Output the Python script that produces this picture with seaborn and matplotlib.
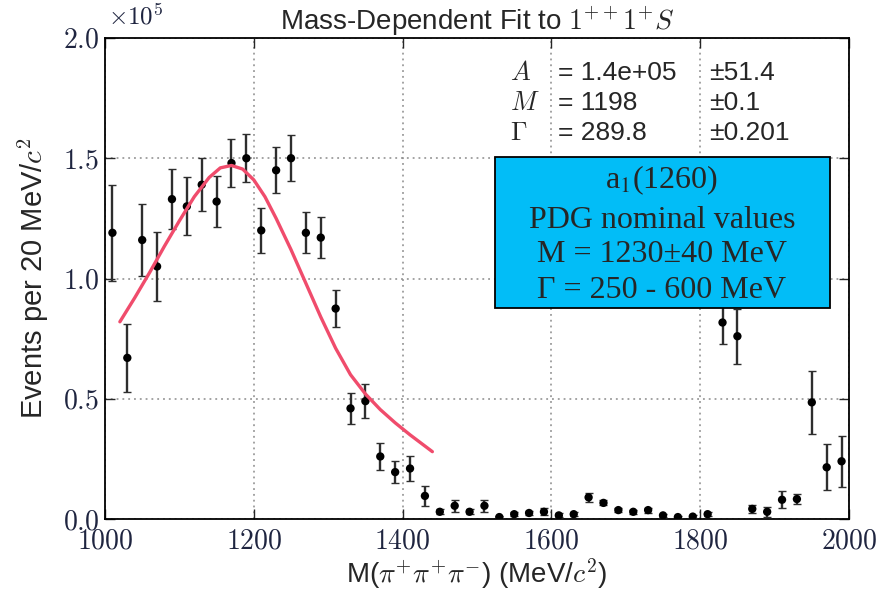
import numpy as np
import pandas as pd
import matplotlib
matplotlib.use('Agg')
import matplotlib.pyplot as plt
from matplotlib.patches import Rectangle
from matplotlib.ticker import FuncFormatter, FixedLocator
import seaborn as sns

# ---- data (events in units of 10^5) ----
mass = [1010, 1030, 1050, 1070, 1090, 1110, 1130, 1150, 1170, 1190,
        1210, 1230, 1250, 1270, 1290, 1310, 1330, 1350, 1370, 1390,
        1410, 1430, 1450, 1470, 1490, 1510, 1530, 1550, 1570, 1590,
        1610, 1630, 1650, 1670, 1690, 1710, 1730, 1750, 1770, 1790,
        1810, 1830, 1850, 1870, 1890, 1910, 1930, 1950, 1970, 1990]
events = [1.19, 0.67, 1.16, 1.05, 1.33, 1.30, 1.39, 1.32, 1.48, 1.50,
          1.20, 1.45, 1.50, 1.19, 1.17, 0.875, 0.46, 0.49, 0.26, 0.195,
          0.21, 0.096, 0.03, 0.055, 0.03, 0.055, 0.008, 0.02, 0.025, 0.03,
          0.015, 0.02, 0.09, 0.067, 0.037, 0.03, 0.037, 0.015, 0.008, 0.01,
          0.02, 0.817, 0.76, 0.042, 0.03, 0.08, 0.083, 0.485, 0.215, 0.24]
errors = [0.20, 0.14, 0.15, 0.145, 0.125, 0.12, 0.11, 0.105, 0.10, 0.10,
          0.095, 0.095, 0.095, 0.085, 0.085, 0.077, 0.065, 0.07, 0.055, 0.045,
          0.05, 0.04, 0.01, 0.025, 0.01, 0.025, 0.005, 0.008, 0.008, 0.015,
          0.008, 0.008, 0.02, 0.01, 0.008, 0.008, 0.01, 0.005, 0.005, 0.005,
          0.008, 0.09, 0.115, 0.015, 0.02, 0.035, 0.02, 0.13, 0.095, 0.105]

fit_mass = [1020, 1040, 1060, 1080, 1100, 1120, 1140, 1155, 1170, 1185,
            1200, 1215, 1230, 1250, 1270, 1290, 1310, 1330, 1350, 1370,
            1390, 1410, 1425, 1440]
fit_events = [0.82, 0.92, 1.025, 1.135, 1.24, 1.34, 1.42, 1.46, 1.47, 1.455,
              1.41, 1.34, 1.25, 1.12, 0.98, 0.84, 0.71, 0.60, 0.52, 0.455,
              0.40, 0.35, 0.315, 0.28]

x_ticks = [1000, 1200, 1400, 1600, 1800, 2000]
y_ticks = [0.0, 0.5, 1.0, 1.5, 2.0]

title = r'Mass-Dependent Fit to $1^{++}1^{+}S$'
xlabel = r'M($\pi^{+}\pi^{+}\pi^{-}$) (MeV/$c^{2}$)'
ylabel = r'Events per 20 MeV/$c^{2}$'
param_names = [r'$A$', r'$M$', r'$\Gamma$']
param_values = ['= 1.4e+05', '= 1198', '= 289.8']
param_errors = ['\u00b151.4', '\u00b10.1', '\u00b10.201']
box_lines = [r'a$_{1}$(1260)', 'PDG nominal values',
             'M = 1230\u00b140 MeV', '\u0393 = 250 - 600 MeV']

# ---- style ----
sns.set_style('ticks')
plt.rcParams['font.family'] = ['Liberation Sans', 'DejaVu Sans']
plt.rcParams['mathtext.fontset'] = 'cm'

W, H = 879, 590
fig = plt.figure(figsize=(W / 100, H / 100), dpi=100)
ax = fig.add_axes([105 / W, 1 - 519 / H, 744 / W, 481 / H])

df = pd.DataFrame({'mass': mass, 'events': events, 'err': errors})
fit_df = pd.DataFrame({'mass': fit_mass, 'events': fit_events})

eb = ax.errorbar(df['mass'], df['events'], yerr=df['err'], fmt='none',
                 ecolor='#2e2e2e', elinewidth=1.7, capsize=3, capthick=1.0,
                 zorder=3)
for cl in eb[1]:
    cl.set_color('#6e6e6e')
sns.scatterplot(data=df, x='mass', y='events', ax=ax, color='black',
                s=36, edgecolor='none', zorder=4)
sns.lineplot(data=fit_df, x='mass', y='events', ax=ax, color='#F04C6C',
             lw=2.4, zorder=5, sort=False)

ax.set_xlim(1000, 2000)
ax.set_ylim(0, 2.0)
ax.xaxis.set_major_locator(FixedLocator(x_ticks))
ax.yaxis.set_major_locator(FixedLocator(y_ticks))
ax.xaxis.set_major_formatter(FuncFormatter(lambda v, p: f'${v:.0f}$'))
ax.yaxis.set_major_formatter(FuncFormatter(lambda v, p: f'${v:.1f}$'))
ax.tick_params(direction='in', top=True, right=True, length=7, width=1,
               labelsize=20, labelcolor='#1f2540')
ax.tick_params(axis='x', pad=7)
ax.tick_params(axis='y', pad=4)
ax.grid(True, ls=(0, (1.2, 2.6)), color='#8a8a8a', lw=1.1)
for s in ax.spines.values():
    s.set_linewidth(1.3)
    s.set_color('black')

ax.set_xlabel(xlabel, fontsize=20, labelpad=1)
ax.set_ylabel(ylabel, fontsize=21)
ax.yaxis.set_label_coords(-0.072, 0.5)
ax.set_title(title, fontsize=20, pad=6)

fig.text(108 / W, 1 - 24 / H, r'$\times10^{5}$', fontsize=18, ha='left',
         va='baseline', color='#1f2540')

# fit parameters
rows_y = [73, 103, 133]
for name, val, err, yy in zip(param_names, param_values, param_errors, rows_y):
    fig.text(510 / W, 1 - yy / H, name, fontsize=19, ha='left', va='center')
    fig.text(558 / W, 1 - yy / H, val, fontsize=19, ha='left', va='center')
    fig.text(709 / W, 1 - yy / H, err, fontsize=19, ha='left', va='center')

# PDG box
box = Rectangle((495 / W, 1 - 308 / H), (830 - 495) / W, (308 - 157) / H,
                transform=fig.transFigure, facecolor='#02BDF7',
                edgecolor='black', lw=1.3, zorder=5)
fig.add_artist(box)
for line, yy in zip(box_lines, [180, 221, 255, 290]):
    fig.text(662 / W, 1 - yy / H, line, fontsize=23, ha='center', va='center',
             family='Liberation Serif', math_fontfamily='stix', zorder=6)

fig.savefig('out.png', dpi=100)
